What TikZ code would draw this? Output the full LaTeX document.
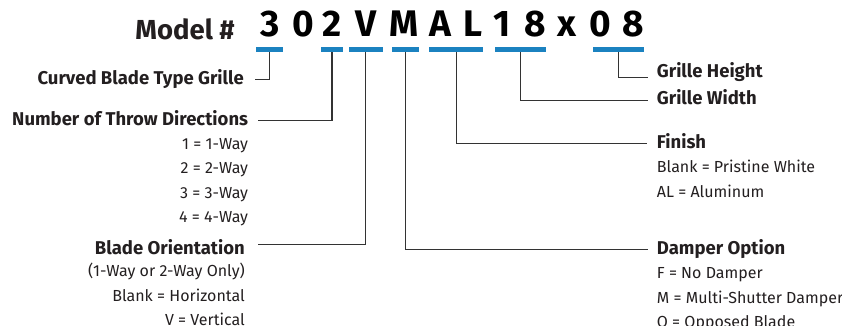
\documentclass[tikz,border=0pt]{standalone}
\usepackage{fontspec}
\setmainfont{Fira Sans}
\usepackage{tikz}
\usetikzlibrary{positioning}
\definecolor{barblue}{RGB}{27,130,192}
\definecolor{inkdark}{RGB}{35,31,32}

\begin{document}
\begin{tikzpicture}[
        x=1pt, y=1pt,
        node distance=8pt,
        code/.style={inner sep=0pt, anchor=base, text=black, font=\bfseries\fontsize{37}{37}\selectfont},
        bar/.style={rectangle, draw=none, fill=barblue, inner sep=0pt, minimum height=4.7pt},
        head/.style={inner sep=0pt, text=inkdark, text height=13pt, text depth=4pt, font=\bfseries\fontsize{18.5}{18.5}\selectfont},
        opt/.style={inner sep=0pt, text=inkdark, text height=12pt, text depth=4pt, font=\fontsize{16}{16}\selectfont},
        link/.style={draw=black!80, line width=1.2pt}
    ]
        \useasboundingbox (0,0) rectangle (842,-326);
        % model number
        \node[code, anchor=base east, font=\bfseries\fontsize{27.5}{27.5}\selectfont, text=inkdark] (model) at (235,-39.3) {Model \#};
        \node[code] (c1) at (270,-36.7) {3};
        \node[code] (c2) at (303,-36.7) {0};
        \node[code] (c3) at (332,-36.7) {2};
        \node[code] (c4) at (366,-36.7) {V};
        \node[code] (c5) at (404,-36.7) {M};
        \node[code] (c6) at (440,-36.7) {A};
        \node[code] (c7) at (473,-36.7) {L};
        \node[code] (c8) at (502,-36.7) {1};
        \node[code] (c9) at (535,-36.7) {8};
        \node[code] (c10) at (567,-36.7) {x};
        \node[code] (c11) at (600,-36.7) {0};
        \node[code] (c12) at (633,-36.7) {8};
        % bars under the code
        \node[bar, minimum width=26.7pt] (b1) at (269.3,-49.7) {};
        \node[bar, minimum width=21.4pt] (b2) at (332,-49.7) {};
        \node[bar, minimum width=34pt] (b3) at (365.7,-49.7) {};
        \node[bar, minimum width=26.7pt] (b4) at (405.3,-49.7) {};
        \node[bar, minimum width=54pt] (b5) at (456.3,-49.7) {};
        \node[bar, minimum width=50.7pt] (b6) at (520.7,-49.7) {};
        \node[bar, minimum width=51.3pt] (b7) at (618.3,-49.7) {};
        % left labels
        \node[head, anchor=base east] (curved) at (244,-84.3) {Curved Blade Type Grille};
        \node[head, anchor=base east] (throw) at (248.3,-125) {Number of Throw Directions};
        \node[opt, below left=8pt and 0pt of throw.south east] (t1) {1 = 1-Way};
        \node[opt, below left=8pt and 0pt of t1.south east] (t2) {2 = 2-Way};
        \node[opt, below left=8pt and 0pt of t2.south east] (t3) {3 = 3-Way};
        \node[opt, below left=8pt and 0pt of t3.south east] (t4) {4 = 4-Way};
        \node[head, anchor=base east] (orient) at (245,-254.3) {Blade Orientation};
        \node[opt, below left=6pt and 0pt of orient.south east] (o1) {(1-Way or 2-Way Only)};
        \node[opt, below left=8pt and 0pt of o1.south east] (o2) {Blank = Horizontal};
        \node[opt, below left=8pt and 0pt of o2.south east] (o3) {V = Vertical};
        % right labels
        \node[head, anchor=base west] (height) at (656.7,-77.7) {Grille Height};
        \node[head, anchor=base west] (width) at (656.7,-105) {Grille Width};
        \node[head, anchor=base west] (finish) at (656.7,-148.3) {Finish};
        \node[opt, below right=8pt and 0pt of finish.south west] (f1) {Blank = Pristine White};
        \node[opt, below right=8pt and 0pt of f1.south west] (f2) {AL = Aluminum};
        \node[head, anchor=base west] (damper) at (656.7,-254.3) {Damper Option};
        \node[opt, below right=8pt and 0pt of damper.south west] (d1) {F = No Damper};
        \node[opt, below right=8pt and 0pt of d1.south west] (d2) {M = Multi-Shutter Damper};
        \node[opt, below right=8pt and 0pt of d2.south west] (d3) {O = Opposed Blade};
        % leader lines
        \draw[link] (b1.south) |- ([xshift=11pt]curved.east);
        \draw[link] (b2.south) |- ([xshift=10pt]throw.east);
        \draw[link] (b3.south) |- ([xshift=13pt, yshift=5.4pt]orient.east);
        \draw[link] (b4.south) |- ([xshift=-9pt]damper.west);
        \draw[link] (b5.south) |- ([xshift=-10pt]finish.west);
        \draw[link] (b6.south) |- ([xshift=-9pt]width.west);
        \draw[link] (b7.south) |- ([xshift=-9pt]height.base west);
    \end{tikzpicture}
\end{document}
